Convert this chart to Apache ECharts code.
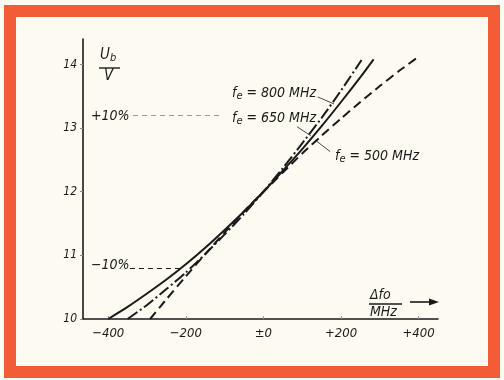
<!DOCTYPE html>
<html>
<head>
<meta charset="utf-8">
<script src="https://cdn.jsdelivr.net/npm/echarts@6/dist/echarts.min.js"></script>
<style>html,body{margin:0;padding:0;background:#fcfaf1;}#c{width:504px;height:380px;}</style>
</head>
<body>
<div id="c"></div>
<script>
// ---- data ----
var xTicks = [-400, -200, 0, 200, 400];
var xTickLabels = ['\u2212400', '\u2212200', '\u00b10', '+200', '+400'];
var yTicks = [10, 11, 12, 13, 14];
var yTickLabels = ['10', '11', '12', '13', '14'];

// f_e = 800 MHz (dash-dot)
var fe800X = [-350, -300, -250, -200, -150, -100, -50, 0, 50, 100, 150, 200, 253];
var fe800Y = [10.0, 10.22, 10.47, 10.73, 11.02, 11.33, 11.65, 12.0, 12.37, 12.76, 13.16, 13.59, 14.07];

// f_e = 650 MHz (solid)
var fe650X = [-400, -350, -300, -250, -200, -150, -100, -50, 0, 50, 100, 150, 200, 250, 284];
var fe650Y = [10.0, 10.19, 10.40, 10.62, 10.86, 11.12, 11.40, 11.69, 12.0, 12.33, 12.67, 13.03, 13.41, 13.80, 14.08];

// f_e = 500 MHz (dashed)
var fe500X = [-292, -250, -200, -150, -100, -50, 0, 50, 100, 150, 200, 250, 300, 350, 397];
var fe500Y = [10.0, 10.31, 10.67, 11.02, 11.36, 11.69, 12.0, 12.30, 12.60, 12.88, 13.15, 13.41, 13.66, 13.90, 14.11];

var plusTen = 13.2, minusTen = 10.8;

function zip(a, b) { return a.map(function (v, i) { return [v, b[i]]; }); }

var ink = '#1b1a1a';
var font = "'Liberation Sans Narrow','DejaVu Sans Condensed','Liberation Sans',sans-serif";
var sub = { fontSize: 11, fontStyle: 'italic', fontFamily: font, fill: ink, padding: [7, 0, 0, 0] };

var chart = echarts.init(document.getElementById('c'));
chart.setOption({
  backgroundColor: '#fcfaf1',
  animation: false,
  grid: { left: 83, right: 66, top: 39, bottom: 61 },
  xAxis: {
    type: 'value', min: -465, max: 450,
    splitLine: { show: false },
    axisLine: { onZero: false, lineStyle: { color: ink, width: 1.6 } },
    axisTick: { show: true, inside: true, length: 3, customValues: xTicks, lineStyle: { color: '#999' } },
    axisLabel: {
      customValues: xTicks, margin: 8, color: ink, fontSize: 13, fontStyle: 'italic', fontFamily: font,
      formatter: function (v) { var i = xTicks.indexOf(v); return i >= 0 ? xTickLabels[i] : ''; }
    }
  },
  yAxis: {
    type: 'value', min: 10, max: 14.4,
    splitLine: { show: false },
    axisLine: { show: true, onZero: false, lineStyle: { color: ink, width: 1.6 } },
    axisTick: { show: true, length: 3, customValues: yTicks, lineStyle: { color: '#888' } },
    axisLabel: {
      customValues: yTicks, margin: 6, color: ink, fontSize: 12, fontStyle: 'italic', fontFamily: font,
      formatter: function (v) { var i = yTicks.indexOf(v); return i >= 0 ? yTickLabels[i] : ''; }
    }
  },
  series: [
    {
      name: 'fe=800MHz', type: 'line', data: zip(fe800X, fe800Y), smooth: 0.2, showSymbol: false,
      lineStyle: { color: ink, width: 2, type: [12, 3, 2, 3] },
      markLine: {
        silent: true, symbol: 'none', label: { show: false },
        lineStyle: { color: ink, width: 0.8, type: 'solid' },
        data: [[{ coord: [140, 13.49] }, { coord: [182, 13.38] }]]
      }
    },
    {
      name: 'fe=650MHz', type: 'line', data: zip(fe650X, fe650Y), smooth: 0.2, showSymbol: false,
      lineStyle: { color: ink, width: 2, type: 'solid' },
      markLine: {
        silent: true, symbol: 'none', label: { show: false },
        lineStyle: { color: ink, width: 0.8, type: 'solid' },
        data: [
          [{ coord: [87, 13.02] }, { coord: [122, 12.88] }],
          [{ coord: [-336, plusTen] }, { coord: [-104, plusTen], lineStyle: { color: '#9a9a94', width: 1, type: [5, 4] } }],
          [{ coord: [-344, minusTen] }, { coord: [-212, minusTen], lineStyle: { color: ink, width: 1, type: [5, 4] } }]
        ]
      }
    },
    {
      name: 'fe=500MHz', type: 'line', data: zip(fe500X, fe500Y), smooth: 0.2, showSymbol: false,
      lineStyle: { color: ink, width: 2, type: [9, 5] },
      markLine: {
        silent: true, symbol: 'none', label: { show: false },
        lineStyle: { color: ink, width: 0.8, type: 'solid' },
        data: [[{ coord: [172, 12.63] }, { coord: [134, 12.81] }]]
      }
    }
  ],
  graphic: [
    { type: 'rect', silent: true, z: 100, shape: { x: 10, y: 11, width: 484, height: 361 },
      style: { fill: 'none', stroke: '#f25c36', lineWidth: 12 } },
    // y axis title Ub / V
    { type: 'text', left: 100, top: 48, style: { text: 'U{s|b}', fill: ink, font: 'italic 15px ' + font,
        rich: { s: { fontSize: 11, fontStyle: 'italic', fontFamily: font, fill: ink, padding: [6, 0, 0, 0] } } } },
    { type: 'line', shape: { x1: 99, y1: 68, x2: 120, y2: 68 }, style: { stroke: ink, lineWidth: 1.4 } },
    { type: 'text', left: 104, top: 69, style: { text: 'V', fill: ink, font: 'italic 15px ' + font } },
    // x axis title
    { type: 'text', left: 370, top: 288, style: { text: '\u0394fo', fill: ink, font: 'italic 14px ' + font } },
    { type: 'line', shape: { x1: 369, y1: 304, x2: 402, y2: 304 }, style: { stroke: ink, lineWidth: 1.4 } },
    { type: 'text', left: 370, top: 305, style: { text: 'MHz', fill: ink, font: 'italic 14px ' + font } },
    { type: 'line', shape: { x1: 410, y1: 302, x2: 432, y2: 302 }, style: { stroke: ink, lineWidth: 1.6 } },
    { type: 'polygon', shape: { points: [[439, 302], [429, 298.5], [429, 305.5]] }, style: { fill: ink } },
    // percent labels
    { type: 'text', left: 91, top: 109, style: { text: '+10%', fill: ink, font: 'italic 14px ' + font } },
    { type: 'text', left: 91, top: 258, style: { text: '\u221210%', fill: ink, font: 'italic 14px ' + font } },
    // curve labels
    { type: 'text', left: 232, top: 86, style: { text: 'f{s|e} = 800 MHz', fill: ink, font: 'italic 14px ' + font, rich: { s: sub } } },
    { type: 'text', left: 232, top: 111, style: { text: 'f{s|e} = 650 MHz', fill: ink, font: 'italic 14px ' + font, rich: { s: sub } } },
    { type: 'text', left: 335, top: 149, style: { text: 'f{s|e} = 500 MHz', fill: ink, font: 'italic 14px ' + font, rich: { s: sub } } }
  ]
});
</script>
</body>
</html>
